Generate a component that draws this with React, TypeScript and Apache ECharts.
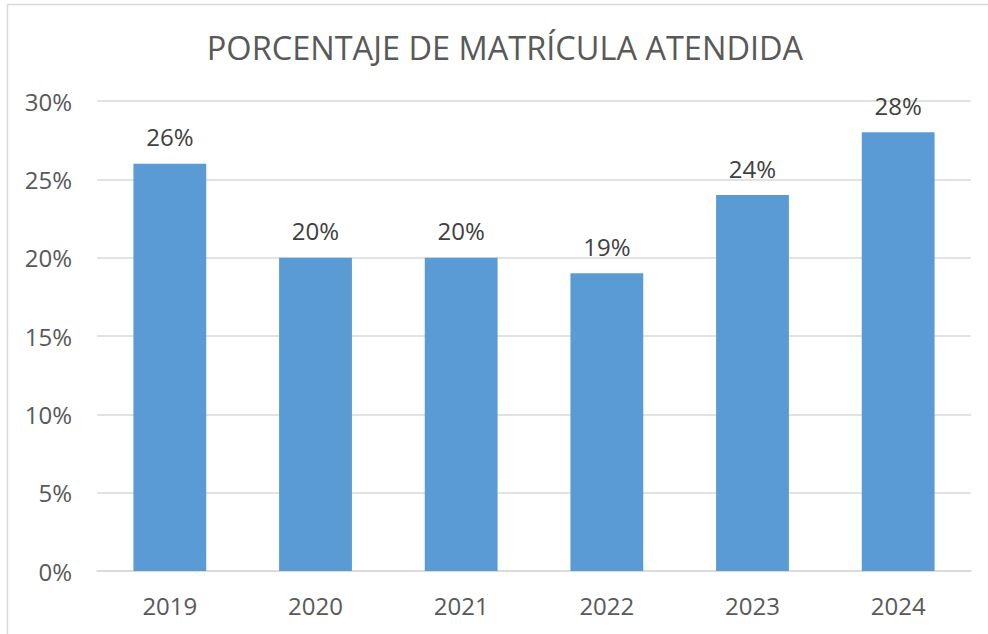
import React, { useEffect, useRef } from "react";
import * as echarts from "echarts";

const categories = ["2019", "2020", "2021", "2022", "2023", "2024"];
const values = [0.26, 0.2, 0.2, 0.19, 0.24, 0.28];
const titleText = "PORCENTAJE DE MATRÍCULA ATENDIDA";

const FONT = "'Open Sans', 'Noto Sans', sans-serif";

export default function App() {
  const ref = useRef<HTMLDivElement>(null);
  useEffect(() => {
    document.body.style.margin = "0";
    const chart = echarts.init(ref.current!, undefined, { renderer: "svg" });
    chart.setOption({
      animation: false,
      backgroundColor: "#ffffff",
      graphic: [
        {
          type: "rect",
          shape: { x: 7.5, y: 4.5, width: 1000, height: 700 },
          style: { fill: "none", stroke: "#D9D9D9", lineWidth: 1.5 },
          silent: true,
        },
        {
          type: "text",
          x: 505,
          y: 47,
          style: {
            text: titleText,
            fontFamily: FONT,
            fontSize: 32.5,
            fill: "#595959",
            align: "center",
            verticalAlign: "middle",
          },
          silent: true,
        },
      ],
      grid: { left: 97, right: 17, top: 101, bottom: 63, containLabel: false },
      xAxis: {
        type: "category",
        data: categories,
        axisTick: { show: false },
        axisLine: { show: true, lineStyle: { color: "#D9D9D9", width: 1.5 } },
        axisLabel: { fontFamily: FONT, fontSize: 24, color: "#595959", margin: 22 },
      },
      yAxis: {
        type: "value",
        min: 0,
        max: 0.3,
        interval: 0.05,
        axisLine: { show: false },
        axisTick: { show: false },
        splitLine: { lineStyle: { color: "#D9D9D9", width: 1.5 } },
        axisLabel: {
          fontFamily: FONT,
          fontSize: 24,
          color: "#595959",
          margin: 25,
          formatter: (v: number) => Math.round(v * 100) + "%",
        },
      },
      series: [
        {
          type: "bar",
          data: values,
          barWidth: "50%",
          itemStyle: { color: "#5B9BD5" },
          label: {
            show: true,
            position: "top",
            distance: 15,
            fontFamily: FONT,
            fontSize: 24,
            color: "#404040",
            formatter: (p: any) => Math.round(p.value * 100) + "%",
          },
        },
      ],
    });
    return () => chart.dispose();
  }, []);
  return <div ref={ref} style={{ position: "absolute", left: 0, top: 0, width: 988, height: 634 }} />;
}
